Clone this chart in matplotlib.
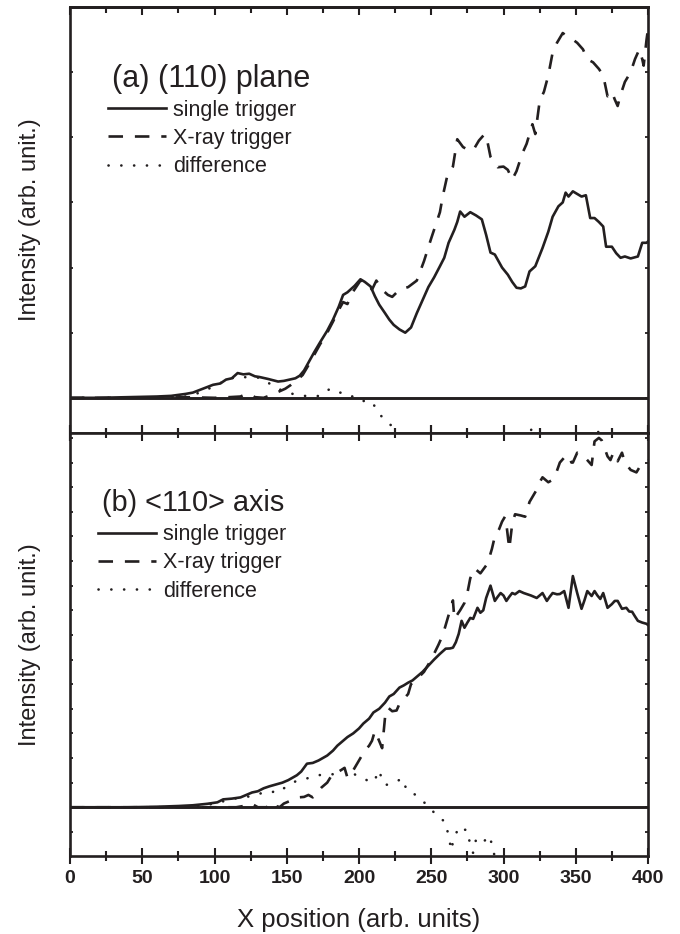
import matplotlib
matplotlib.use("Agg")
import matplotlib.pyplot as plt
from matplotlib.lines import Line2D
from matplotlib.ticker import MultipleLocator, NullFormatter

# ---------------- data ----------------
# Panel (a): (110) plane
a_single_x = [0, 20, 40, 60, 70, 80, 85, 92, 99, 104, 108, 112, 116, 120, 124, 128, 131, 137, 144, 148,
              152, 156, 159, 162, 165, 169, 173, 178, 182, 186, 189, 192, 194, 197, 201, 204, 208, 211,
              214, 218, 221, 224, 228, 232, 236, 240, 244, 248, 252, 256, 259, 262, 266, 268, 270, 273,
              277, 281, 285, 288, 291, 294, 297, 299, 303, 306, 309, 312, 315, 318, 322, 327, 331, 334,
              338, 341, 343, 345, 348, 351, 354, 357, 360, 363, 366, 369, 371, 375, 378, 381, 384, 388,
              393, 396, 399, 400]
a_single_y = [0, 0, 0.01, 0.02, 0.03, 0.06, 0.08, 0.14, 0.2, 0.22, 0.28, 0.3, 0.38, 0.36, 0.37, 0.33, 0.32,
              0.29, 0.25, 0.26, 0.28, 0.3, 0.34, 0.42, 0.54, 0.7, 0.85, 1.03, 1.2, 1.4, 1.58, 1.62, 1.66,
              1.72, 1.82, 1.78, 1.71, 1.56, 1.43, 1.3, 1.2, 1.12, 1.05, 1.0, 1.08, 1.3, 1.5, 1.7, 1.85,
              2.02, 2.15, 2.38, 2.58, 2.7, 2.86, 2.78, 2.85, 2.8, 2.74, 2.5, 2.23, 2.2, 2.08, 2.0, 1.89,
              1.78, 1.69, 1.68, 1.71, 1.94, 2.02, 2.3, 2.55, 2.78, 2.94, 3.0, 3.15, 3.09, 3.17, 3.13,
              3.09, 3.11, 2.76, 2.76, 2.7, 2.63, 2.32, 2.32, 2.22, 2.15, 2.17, 2.14, 2.17, 2.38, 2.38, 2.4]

a_xray_x = [0, 30, 60, 80, 100, 110, 118, 122, 125, 128, 134, 140, 145, 149, 153, 157, 161, 165, 169, 173,
            178, 182, 186, 189, 192, 195, 198, 201, 205, 209, 212, 216, 220, 223, 228, 234, 240, 245, 250,
            256, 258, 261, 265, 268, 272, 276, 279, 283, 287, 289, 291, 294, 296, 300, 303, 306, 309, 313,
            316, 320, 322, 325, 328, 331, 334, 337, 341, 344, 348, 351, 355, 358, 362, 366, 369, 372, 375,
            377, 379, 381, 384, 388, 391, 394, 396, 397, 399, 400]
a_xray_y = [0, 0, 0, 0.01, 0, 0.01, 0.02, 0.06, 0.05, 0.01, 0, 0.05, 0.1, 0.14, 0.2, 0.27, 0.35, 0.5, 0.66,
            0.82, 1.0, 1.17, 1.35, 1.47, 1.44, 1.6, 1.7, 1.8, 1.78, 1.66, 1.8, 1.66, 1.58, 1.55, 1.66, 1.7,
            1.8, 2.1, 2.45, 2.85, 3.1, 3.4, 3.55, 3.97, 3.85, 3.8, 3.8, 3.95, 4.05, 3.92, 3.7, 3.6, 3.54,
            3.55, 3.5, 3.35, 3.48, 3.75, 3.9, 4.2, 4.05, 4.55, 4.7, 4.95, 5.3, 5.45, 5.6, 5.55, 5.5, 5.45,
            5.35, 5.2, 5.15, 5.05, 4.95, 4.63, 4.7, 4.58, 4.48, 4.65, 4.85, 5.0, 5.2, 5.35, 5.2, 5.1, 5.5,
            5.66]

a_diff_x = [0, 40, 80, 90, 100, 108, 116, 124, 131, 138, 145, 152, 159, 166, 173, 180, 187, 193, 199, 209,
            214, 223, 230, 240, 260, 300, 315, 320, 325, 350, 365, 370, 400]
a_diff_y = [0, 0, 0.02, 0.08, 0.18, 0.27, 0.33, 0.31, 0.31, 0.22, 0.13, 0.07, 0.04, 0.02, 0.03, 0.14, 0.08,
            0.06, -0.04, -0.06, -0.25, -0.44, -0.7, -1.0, -1.5, -1.2, -0.7, -0.45, -0.7, -0.8, -0.49, -0.8, -1.5]

# Panel (b): <110> axis
b_single_x = [0, 40, 60, 75, 85, 95, 102, 106, 112, 118, 122, 126, 130, 134, 138, 141, 144, 147, 151, 154,
              157, 160, 164, 168, 172, 175, 178, 182, 185, 189, 192, 196, 200, 203, 207, 210, 214, 218,
              221, 224, 228, 231, 234, 237, 240, 244, 248, 252, 256, 260, 263, 265, 267, 269, 271, 273,
              275, 277, 279, 282, 284, 286, 288, 291, 294, 296, 298, 300, 302, 304, 306, 308, 311, 314,
              316, 319, 321, 323, 325, 327, 330, 332, 334, 337, 339, 342, 345, 348, 351, 354, 356, 358,
              361, 363, 365, 367, 369, 372, 375, 377, 379, 382, 385, 387, 389, 391, 393, 396, 399, 400]
b_single_y = [0, 0, 0.02, 0.05, 0.08, 0.14, 0.2, 0.32, 0.35, 0.4, 0.5, 0.6, 0.65, 0.77, 0.85, 0.9, 0.95,
              1.0, 1.1, 1.2, 1.3, 1.45, 1.77, 1.8, 1.9, 2.0, 2.1, 2.3, 2.5, 2.7, 2.85, 3.0, 3.2, 3.4, 3.6,
              3.85, 4.0, 4.25, 4.5, 4.6, 4.86, 4.95, 5.06, 5.15, 5.3, 5.5, 5.75, 6.0, 6.23, 6.44, 6.45,
              6.48, 6.7, 7.04, 7.57, 7.29, 7.5, 7.69, 7.65, 8.1, 7.9, 8.0, 8.5, 9.0, 8.38, 8.55, 8.7, 8.6,
              8.38, 8.55, 8.7, 8.65, 8.78, 8.7, 8.66, 8.6, 8.55, 8.5, 8.6, 8.7, 8.38, 8.55, 8.7, 8.65,
              8.66, 8.78, 8.1, 9.39, 8.7, 8.06, 8.4, 8.78, 8.58, 8.78, 8.6, 8.46, 8.7, 8.1, 8.25, 8.38,
              8.38, 8.06, 8.1, 7.95, 7.94, 7.75, 7.57, 7.5, 7.45, 7.4]

b_xray_x = [0, 50, 100, 115, 120, 124, 127, 130, 136, 141, 143, 145, 148, 152, 158, 162, 165, 168, 171, 174,
            178, 182, 186, 190, 192, 194, 197, 200, 204, 207, 209, 211, 213, 216, 218, 220, 223, 226, 228,
            231, 234, 236, 240, 245, 250, 255, 258, 261, 263, 265, 266, 270, 273, 275, 277, 280, 282, 284,
            289, 292, 294, 297, 299, 301, 302, 304, 306, 308, 312, 315, 318, 323, 325, 327, 331, 334, 336,
            339, 342, 345, 347, 348, 351, 355, 358, 361, 363, 366, 368, 372, 374, 376, 379, 382, 384, 388,
            392, 394, 398, 400]
b_xray_y = [0, 0, 0, 0, 0.05, 0.15, 0.1, 0, 0, 0.2, 0.05, 0, 0.15, 0.25, 0.4, 0.42, 0.5, 0.4, 0.6, 0.8, 1.0,
            1.38, 1.45, 1.6, 1.2, 1.3, 1.6, 1.9, 2.3, 2.5, 2.7, 3.1, 2.83, 2.4, 3.64, 4.05, 3.9, 3.93, 4.2,
            4.4, 4.6, 5.0, 5.2, 5.5, 6.0, 6.6, 7.0, 7.6, 8.0, 8.4, 7.65, 8.0, 8.3, 8.7, 9.3, 9.7, 9.6, 9.5,
            9.9, 10.5, 11.0, 11.3, 11.6, 11.8, 11.5, 10.5, 11.5, 11.9, 11.85, 11.8, 12.4, 12.9, 13.2, 13.4,
            13.2, 13.3, 13.5, 14.0, 14.2, 14.3, 14.0, 14.0, 14.4, 14.3, 14.1, 13.9, 14.86, 15.0, 14.9,
            14.25, 14.1, 14.4, 14.05, 14.4, 14.0, 13.7, 13.6, 13.8, 14.0, 14.1]

b_diff_x = [0, 60, 90, 100, 110, 118, 126, 134, 140, 144, 148, 152, 156, 160, 164, 168, 172, 177, 182, 186,
            190, 194, 198, 203, 208, 211, 213, 216, 218, 222, 226, 230, 233, 237, 241, 245, 249, 253, 256,
            260, 262, 264, 265, 269, 272, 275, 277, 279, 281, 285, 288, 291, 292, 295, 300, 320, 400]
b_diff_y = [0, 0, 0.05, 0.15, 0.3, 0.4, 0.45, 0.6, 0.6, 0.8, 0.77, 0.9, 1.05, 1.1, 1.17, 1.25, 1.3, 1.34,
            1.34, 1.45, 1.58, 1.45, 1.3, 1.15, 1.05, 1.05, 1.5, 1.2, 0.9, 0.95, 1.05, 1.17, 0.7, 0.6, 0.4,
            0.2, 0.0, -0.3, -0.45, -0.6, -1.2, -1.75, -1.4, -0.8, -0.9, -0.93, -1.55, -1.86, -1.3, -1.46,
            -1.3, -1.17, -1.7, -2.1, -2.8, -3.5, -6.0]

panel_titles = ["(a) (110) plane", "(b) <110> axis"]
series_labels = ["single trigger", "X-ray trigger", "difference"]
x_major_ticks = [0, 50, 100, 150, 200, 250, 300, 350, 400]
xlabel_text = "X position (arb. units)"
ylabel_text = "Intensity (arb. unit.)"

# ---------------- style ----------------
INK = "#231f20"
plt.rcParams['font.family'] = ['Liberation Sans', 'DejaVu Sans']
LW = 1.9
solid_kw = dict(color=INK, lw=LW, linestyle='-', solid_joinstyle='round')
dash_kw = dict(color=INK, lw=LW, linestyle=(0, (5.5, 4.5)))
dot_kw = dict(color=INK, lw=LW, linestyle=(0, (0.05, 4.8)), dash_capstyle='round')

W, H = 680, 934
fig = plt.figure(figsize=(W / 100, H / 100), dpi=100)
left, right = 70 / W, 648 / W
axA = fig.add_axes([left, 1 - 433 / H, right - left, (433 - 7) / H])
axB = fig.add_axes([left, 1 - 856 / H, right - left, (856 - 433) / H])

panels = [
    (axA, a_single_x, a_single_y, a_xray_x, a_xray_y, a_diff_x, a_diff_y, (-0.54, 6.0)),
    (axB, b_single_x, b_single_y, b_xray_x, b_xray_y, b_diff_x, b_diff_y, (-1.98, 15.2)),
]
title_pos = [(0.073, 0.831, 22), (0.055, 0.834, 20.8)]
legend_anchor = [(0.066, 0.782), (0.048, 0.784)]

for i, (ax, sx, sy, xx, xy, dx, dy, ylim) in enumerate(panels):
    ax.plot(sx, sy, **solid_kw)
    ax.plot(xx, xy, **dash_kw)
    ax.plot(dx, dy, **dot_kw)
    ax.axhline(0, color=INK, lw=2.1, zorder=3)
    ax.set_xlim(0, 400)
    ax.set_ylim(*ylim)
    for sp in ax.spines.values():
        sp.set_linewidth(1.9)
        sp.set_color(INK)
    ax.xaxis.set_major_locator(MultipleLocator(50))
    ax.xaxis.set_minor_locator(MultipleLocator(25))
    ax.yaxis.set_major_locator(MultipleLocator(1))
    ax.yaxis.set_major_formatter(NullFormatter())
    ax.tick_params(axis='y', which='both', direction='in', left=True, right=True, length=2.5,
                   width=1.3, color=INK)
    ax.tick_params(axis='x', which='major', direction='inout', length=12, width=1.5, color=INK,
                   top=(i == 1), bottom=True)
    ax.tick_params(axis='x', which='minor', direction='inout', length=7, width=1.5, color=INK,
                   top=(i == 1), bottom=True)
    ax.set_ylabel(ylabel_text, fontsize=17, color=INK,
                  family=['Liberation Sans Narrow', 'Liberation Sans', 'DejaVu Sans'])
    handles = [Line2D([], [], **solid_kw), Line2D([], [], **dash_kw), Line2D([], [], **dot_kw)]
    tx, ty, tfs = title_pos[i]
    ax.text(tx, ty, panel_titles[i], transform=ax.transAxes, fontsize=tfs, color=INK,
            va='center', ha='left')
    leg = ax.legend(handles, series_labels, loc='upper left', bbox_to_anchor=legend_anchor[i],
                    frameon=False, fontsize=15.5, handlelength=2.7, handletextpad=0.33,
                    labelspacing=0.33, borderpad=0, borderaxespad=0)
    for t in leg.get_texts():
        t.set_color(INK)

axA.xaxis.set_major_formatter(NullFormatter())
axA.xaxis.set_minor_formatter(NullFormatter())
sec = axA.secondary_xaxis('top')
sec.set_xticks(x_major_ticks)
sec.set_xticklabels([])
sec.xaxis.set_minor_locator(MultipleLocator(25))
sec.tick_params(axis='x', which='major', direction='in', length=6, width=1.5, color=INK)
sec.tick_params(axis='x', which='minor', direction='in', length=4, width=1.5, color=INK)
sec.spines['top'].set_linewidth(1.9)

axB.set_xticks(x_major_ticks)
axB.set_xticklabels([str(v) for v in x_major_ticks], fontsize=14, fontweight='bold', color=INK)
axB.tick_params(axis='x', which='major', pad=4)
axB.set_xlabel(xlabel_text, fontsize=18.5, color=INK, labelpad=15)

axA.yaxis.set_label_coords(-0.05, 0.5)
axB.yaxis.set_label_coords(-0.05, 0.5)

fig.savefig("out.png", dpi=100)
